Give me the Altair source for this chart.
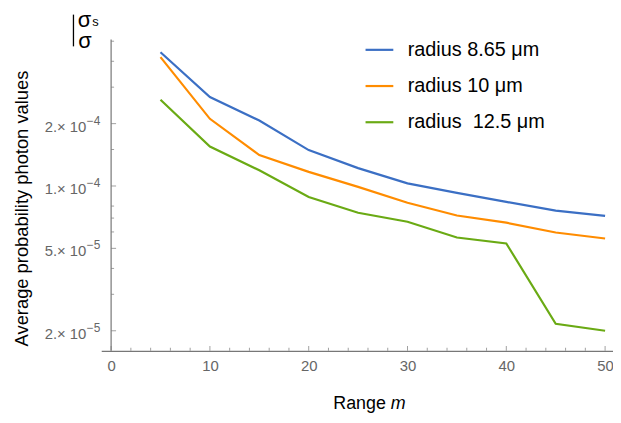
import altair as alt
import pandas as pd

ranges = [5, 10, 15, 20, 25, 30, 35, 40, 45, 50]
blue = [4.42e-4, 2.69e-4, 2.07e-4, 1.49e-4, 1.22e-4, 1.03e-4, 9.26e-5, 8.38e-5, 7.6e-5, 7.18e-5]
orange = [4.19e-4, 2.11e-4, 1.41e-4, 1.17e-4, 9.9e-5, 8.3e-5, 7.2e-5, 6.65e-5, 5.96e-5, 5.58e-5]
green = [2.61e-4, 1.55e-4, 1.19e-4, 8.85e-5, 7.43e-5, 6.72e-5, 5.64e-5, 5.28e-5, 2.16e-5, 2.0e-5]
series = ["radius 8.65 μm", "radius 10 μm", "radius\u00a0 12.5 μm"]
colors = ["#3b6fc4", "#ff8c00", "#6aaa14"]

x_major = [0, 10, 20, 30, 40, 50]
x_minor = [2, 4, 6, 8, 12, 14, 16, 18, 22, 24, 26, 28, 32, 34, 36, 38, 42, 44, 46, 48]
y_major = [2e-5, 5e-5, 1e-4, 2e-4]
y_num = ["2.", "5.", "1.", "2."]
y_base = ["× 10", "× 10", "× 10", "× 10"]
y_exps = ["−5", "−5", "−4", "−4"]
y_minor = [3e-5, 4e-5, 6e-5, 7e-5, 8e-5, 1.5e-4, 3e-4, 4e-4, 5e-4]

FONT = "Liberation Sans"
W, H = 516, 314
AX = "#777777"
LAB = "#666666"

xscale = alt.Scale(domain=[-1, 50.8], nice=False, zero=False)
yscale = alt.Scale(type="log", domain=[1.6e-5, 5.1e-4], nice=False, zero=False)

df = pd.DataFrame({
    "range": ranges * 3,
    "value": blue + orange + green,
    "series": [s for s in series for _ in ranges],
})

xaxis = alt.Axis(values=x_major, ticks=False, grid=False, title=None,
                 labelPadding=8, labelFontSize=15, labelColor=LAB,
                 labelFont=FONT, domainColor=AX, domainWidth=1.2)
yaxis = alt.Axis(values=y_major, labels=False, ticks=False, domain=False,
                 grid=False,
                 title="Average probability photon values",
                 titleFont=FONT, titleFontSize=18.5, titleFontWeight="normal",
                 titleColor="black", titleX=-80, titleY=170,
                 titleAlign="center", titleBaseline="middle")

lines = alt.Chart(df).mark_line(strokeWidth=2.2).encode(
    x=alt.X("range:Q", scale=xscale, axis=xaxis),
    y=alt.Y("value:Q", scale=yscale, axis=yaxis),
    color=alt.Color("series:N", scale=alt.Scale(domain=series, range=colors),
                    legend=alt.Legend(orient="none", legendX=265, legendY=-5, title=None,
                                      symbolType="stroke", symbolSize=784,
                                      symbolStrokeWidth=2.2, labelFontSize=20,
                                      labelFont=FONT, labelColor="black",
                                      labelOffset=13, rowPadding=10.5, padding=0,
                                      labelLimit=400)),
)

yaxis_line = alt.Chart(pd.DataFrame({"range": [0]})).mark_rule(color=AX, strokeWidth=1.2).encode(
    x=alt.X("range:Q", scale=xscale, axis=xaxis), y=alt.value(0), y2=alt.value(H)
)

xt_major = alt.Chart(pd.DataFrame({"range": x_major})).mark_tick(
    orient="vertical", size=5, thickness=1, color=AX, yOffset=-2.5
).encode(x=alt.X("range:Q", scale=xscale, axis=xaxis), y=alt.value(H))

xt_minor = alt.Chart(pd.DataFrame({"range": x_minor})).mark_tick(
    orient="vertical", size=3, thickness=1, color=AX, yOffset=-1.5
).encode(x=alt.X("range:Q", scale=xscale, axis=xaxis), y=alt.value(H))

yt_major = alt.Chart(pd.DataFrame({"value": y_major, "range": [0] * len(y_major)})).mark_tick(
    orient="horizontal", size=5, thickness=1, color=AX, xOffset=2.5
).encode(y=alt.Y("value:Q", scale=yscale, axis=yaxis),
         x=alt.X("range:Q", scale=xscale, axis=xaxis))

yt_minor = alt.Chart(pd.DataFrame({"value": y_minor, "range": [0] * len(y_minor)})).mark_tick(
    orient="horizontal", size=3, thickness=1, color=AX, xOffset=1.5
).encode(y=alt.Y("value:Q", scale=yscale, axis=yaxis),
         x=alt.X("range:Q", scale=xscale, axis=xaxis))

y_num_text = alt.Chart(pd.DataFrame({"value": y_major, "m": y_num})).mark_text(
    font=FONT, fontSize=15, align="left", baseline="middle", color=LAB, dy=3
).encode(y=alt.Y("value:Q", scale=yscale, axis=yaxis), x=alt.value(-57), text="m:N")

y_base_text = alt.Chart(pd.DataFrame({"value": y_major, "b": y_base})).mark_text(
    font=FONT, fontSize=15, align="right", baseline="middle", color=LAB, dy=3
).encode(y=alt.Y("value:Q", scale=yscale, axis=yaxis), x=alt.value(-15), text="b:N")

y_exp_text = alt.Chart(pd.DataFrame({"value": y_major, "e": y_exps})).mark_text(
    font=FONT, fontSize=12, align="left", baseline="middle", color=LAB, dy=-3
).encode(y=alt.Y("value:Q", scale=yscale, axis=yaxis), x=alt.value(-14.5), text="e:N")

xt1 = alt.Chart(pd.DataFrame({"t": ["Range"]})).mark_text(
    font=FONT, fontSize=18, align="right", baseline="alphabetic", color="black"
).encode(text="t:N", x=alt.value(287), y=alt.value(373))
xt2 = alt.Chart(pd.DataFrame({"t": ["m"]})).mark_text(
    font=FONT, fontSize=18, fontStyle="italic", align="left", baseline="alphabetic", color="black"
).encode(text="t:N", x=alt.value(292), y=alt.value(373))

sig1 = alt.Chart(pd.DataFrame({"t": ["σ"]})).mark_text(
    font=FONT, fontSize=22, align="center", baseline="alphabetic", color="black"
).encode(text="t:N", x=alt.value(-17), y=alt.value(-13))
sig_s = alt.Chart(pd.DataFrame({"t": ["s"]})).mark_text(
    font=FONT, fontSize=13, align="left", baseline="alphabetic", color="black"
).encode(text="t:N", x=alt.value(-9), y=alt.value(-14))
sig2 = alt.Chart(pd.DataFrame({"t": ["σ"]})).mark_text(
    font=FONT, fontSize=22, align="center", baseline="alphabetic", color="black"
).encode(text="t:N", x=alt.value(-16.5), y=alt.value(9))
bar = alt.Chart(pd.DataFrame({"t": [0]})).mark_rule(color="black", strokeWidth=1.3).encode(
    x=alt.value(-28), y=alt.value(-25), y2=alt.value(7)
)

chart = alt.layer(
    lines, yaxis_line, xt_major, xt_minor, yt_major, yt_minor,
    y_num_text, y_base_text, y_exp_text,
    xt1, xt2, sig1, sig_s, sig2, bar
).properties(
    width=W, height=H,
    padding={"left": 94, "top": 30, "right": 0, "bottom": 63},
    autosize=alt.AutoSizeParams(type="none"),
    background="white",
).configure_view(stroke=None)

chart.save("out.html", embed_options={"renderer": "svg", "actions": False})
